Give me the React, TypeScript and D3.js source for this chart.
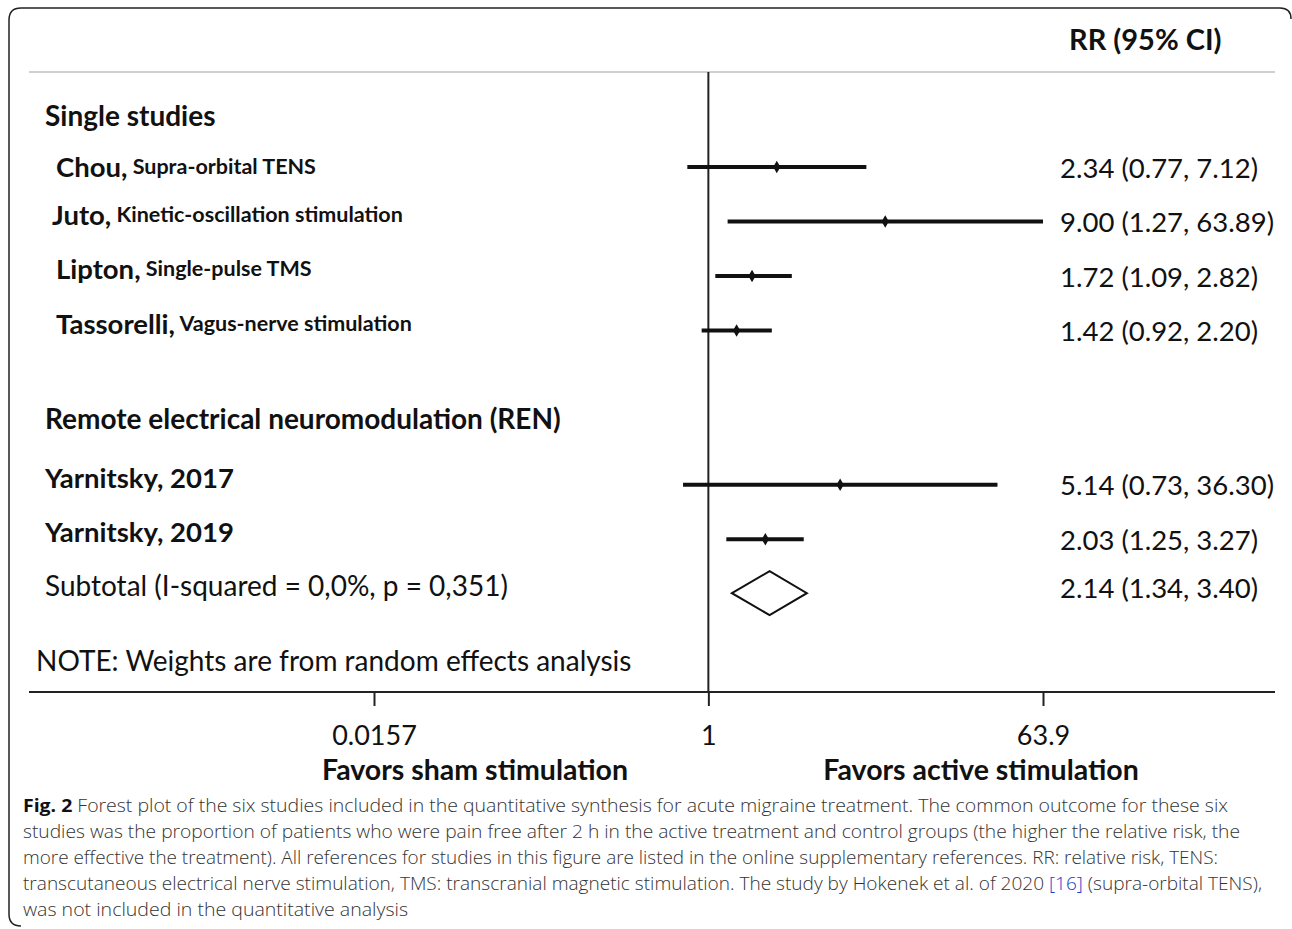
import { useEffect, useRef } from "react";
import * as d3 from "d3";

// study rows
const studyNames = ["Chou,", "Juto,", "Lipton,", "Tassorelli,", "Yarnitsky, 2017", "Yarnitsky, 2019"];
const studyNotes = ["Supra-orbital TENS", "Kinetic-oscillation stimulation", "Single-pulse TMS", "Vagus-nerve stimulation", "", ""];
const rrValues = [2.34, 9.0, 1.72, 1.42, 5.14, 2.03];
const lowerCI = [0.77, 1.27, 1.09, 0.92, 0.73, 1.25];
const upperCI = [7.12, 63.89, 2.82, 2.2, 36.3, 3.27];
// row slots (REN group sits after a gap)
const rowSlots = [0, 1, 2, 3, 5.83, 6.83];

// pooled estimate
const subtotalRR = 2.14;
const subtotalLower = 1.34;
const subtotalUpper = 3.4;
const subtotalSlot = 7.82;

const tickValues = [0.0157, 1, 63.9];
const tickLabels = ["0.0157", "1", "63.9"];

const captionLines = [
  "Forest plot of the six studies included in the quantitative synthesis for acute migraine treatment. The common outcome for these six",
  "studies was the proportion of patients who were pain free after 2 h in the active treatment and control groups (the higher the relative risk, the",
  "more effective the treatment). All references for studies in this figure are listed in the online supplementary references. RR: relative risk, TENS:",
  "transcutaneous electrical nerve stimulation, TMS: transcranial magnetic stimulation. The study by Hokenek et al. of 2020 ",
  "was not included in the quantitative analysis",
];

const W = 1292;
const H = 929;
const FONT = "Lato, 'Open Sans', sans-serif";

function fmt(v: number) {
  return v.toFixed(2);
}

function drawChart(svgEl: SVGSVGElement) {
  const svg = d3.select(svgEl);
  svg.selectAll("*").remove();

  // log scale for relative risk
  const x = d3.scaleLog().domain([0.0157, 63.9]).range([374, 1043]);
  const y = d3.scaleLinear().domain([0, 1]).range([167, 221.5]);

  // frame (left side + top, rounded corners)
  svg
    .append("path")
    .attr("d", "M21,926 Q9,926 9,914 L9,20 Q9,8 21,8 L1280,8 Q1291,8 1291,19")
    .attr("fill", "none")
    .attr("stroke", "#222")
    .attr("stroke-width", 1.5);

  // header separator
  svg
    .append("line")
    .attr("x1", 29)
    .attr("x2", 1275)
    .attr("y1", 72)
    .attr("y2", 72)
    .attr("stroke", "#d0d0d0")
    .attr("stroke-width", 2);

  svg
    .append("text")
    .attr("x", 1069)
    .attr("y", 38)
    .attr("dominant-baseline", "central")
    .style("font-family", FONT)
    .style("font-weight", "bold")
    .style("font-size", "29px")
    .attr("fill", "#111")
    .text("RR (95% CI)");

  // null line
  svg
    .append("line")
    .attr("x1", x(1))
    .attr("x2", x(1))
    .attr("y1", 72)
    .attr("y2", 692)
    .attr("stroke", "#222")
    .attr("stroke-width", 2);

  // x axis
  const axis = svg
    .append("g")
    .attr("transform", "translate(0,692)")
    .call(
      d3
        .axisBottom(x)
        .tickValues(tickValues)
        .tickSize(14)
        .tickFormat((_d, i) => tickLabels[i])
    );
  axis.select(".domain").remove();
  axis.selectAll("line").attr("stroke", "#222").attr("stroke-width", 2);
  axis
    .selectAll("text")
    .attr("y", 42)
    .attr("dy", null)
    .attr("dominant-baseline", "central")
    .attr("fill", "#111")
    .style("font-family", FONT)
    .style("font-size", "27px");
  svg
    .append("line")
    .attr("x1", 29)
    .attr("x2", 1275)
    .attr("y1", 692)
    .attr("y2", 692)
    .attr("stroke", "#222")
    .attr("stroke-width", 2);

  svg
    .append("text")
    .attr("x", 475)
    .attr("y", 769)
    .attr("text-anchor", "middle")
    .attr("dominant-baseline", "central")
    .style("font-family", FONT)
    .style("font-weight", "bold")
    .style("font-size", "28.5px")
    .attr("fill", "#111")
    .text("Favors sham stimulation");
  svg
    .append("text")
    .attr("x", 981)
    .attr("y", 769)
    .attr("text-anchor", "middle")
    .attr("dominant-baseline", "central")
    .style("font-family", FONT)
    .style("font-weight", "bold")
    .style("font-size", "28.5px")
    .attr("fill", "#111")
    .text("Favors active stimulation");

  // group headings
  const heading = (txt: string, yy: number, weight: string, xx: number) =>
    svg
      .append("text")
      .attr("x", xx)
      .attr("y", yy)
      .attr("dominant-baseline", "central")
      .style("font-family", FONT)
      .style("font-weight", weight)
      .style("font-size", "28px")
      .attr("fill", "#111")
      .text(txt);

  heading("Single studies", y(0) - 52, "bold", 45);
  heading("Remote electrical neuromodulation (REN)", y(4.6), "bold", 45);
  heading("Subtotal (I-squared = 0,0%, p = 0,351)", y(subtotalSlot) - 8, "normal", 45);
  heading("NOTE: Weights are from random effects analysis", 660, "normal", 36);

  // study labels
  studyNames.forEach((name, i) => {
    const single = i < 4;
    const t = svg
      .append("text")
      .attr("x", single ? (i === 1 ? 52 : 56) : 45)
      .attr("y", y(rowSlots[i]) - (i === 0 ? 1 : 8))
      .attr("dominant-baseline", "central")
      .style("font-family", FONT)
      .attr("fill", "#111");
    t.append("tspan")
      .style("font-weight", "bold")
      .style("font-size", single ? "27.5px" : "27.5px")
      .text(name);
    if (studyNotes[i]) {
      t.append("tspan")
        .style("font-weight", "bold")
        .style("font-size", "21.5px")
        .text(" " + studyNotes[i]);
    }
  });

  // confidence intervals and point estimates
  const rows = svg.append("g");
  rrValues.forEach((rr, i) => {
    const yy = y(rowSlots[i]);
    rows
      .append("line")
      .attr("x1", x(lowerCI[i]))
      .attr("x2", x(upperCI[i]))
      .attr("y1", yy)
      .attr("y2", yy)
      .attr("stroke", "#111")
      .attr("stroke-width", 4);
    rows
      .append("path")
      .attr("d", d3.symbol(d3.symbolDiamond, 45)())
      .attr("transform", `translate(${x(rr)},${yy})`)
      .attr("fill", "#111");
    rows
      .append("text")
      .attr("x", 1060)
      .attr("y", yy)
      .attr("dominant-baseline", "central")
      .style("font-family", FONT)
      .style("font-size", "27.5px")
      .attr("fill", "#111")
      .text(`${fmt(rr)} (${fmt(lowerCI[i])}, ${fmt(upperCI[i])})`);
  });

  // pooled diamond
  const sy = y(subtotalSlot);
  const diamond = [
    [x(subtotalLower), sy],
    [x(subtotalRR), sy - 22],
    [x(subtotalUpper), sy],
    [x(subtotalRR), sy + 22],
  ] as [number, number][];
  rows
    .append("path")
    .attr("d", d3.line()(diamond) + "Z")
    .attr("fill", "white")
    .attr("stroke", "#111")
    .attr("stroke-width", 2);
  rows
    .append("text")
    .attr("x", 1060)
    .attr("y", sy - 6)
    .attr("dominant-baseline", "central")
    .style("font-family", FONT)
    .style("font-size", "27.5px")
    .attr("fill", "#111")
    .text(`${fmt(subtotalRR)} (${fmt(subtotalLower)}, ${fmt(subtotalUpper)})`);

  // caption
  const capWidths = [1205, 1217, 1195, 1239, 385];
  const cap = svg.append("g").style("font-family", "'Open Sans', sans-serif").style("font-weight", 300);
  captionLines.forEach((line, i) => {
    const t = cap
      .append("text")
      .attr("x", 23)
      .attr("y", 804 + i * 26)
      .attr("dominant-baseline", "central")
      .attr("fill", "#333")
      .style("font-size", "18.5px")
      .attr("textLength", capWidths[i])
      .attr("lengthAdjust", "spacingAndGlyphs");
    if (i === 0) {
      t.append("tspan").style("font-weight", "bold").attr("fill", "#111").text("Fig. 2 ");
    }
    t.append("tspan").text(line);
    if (i === 3) {
      t.append("tspan").attr("fill", "#1a3cc8").text("[16]");
      t.append("tspan").text(" (supra-orbital TENS),");
    }
  });
}

export default function App() {
  const ref = useRef<SVGSVGElement>(null);
  useEffect(() => {
    if (ref.current) drawChart(ref.current);
  }, []);
  return (
    <div style={{ position: "absolute", left: 0, top: 0, background: "white" }}>
      <svg ref={ref} width={W} height={H}></svg>
    </div>
  );
}
